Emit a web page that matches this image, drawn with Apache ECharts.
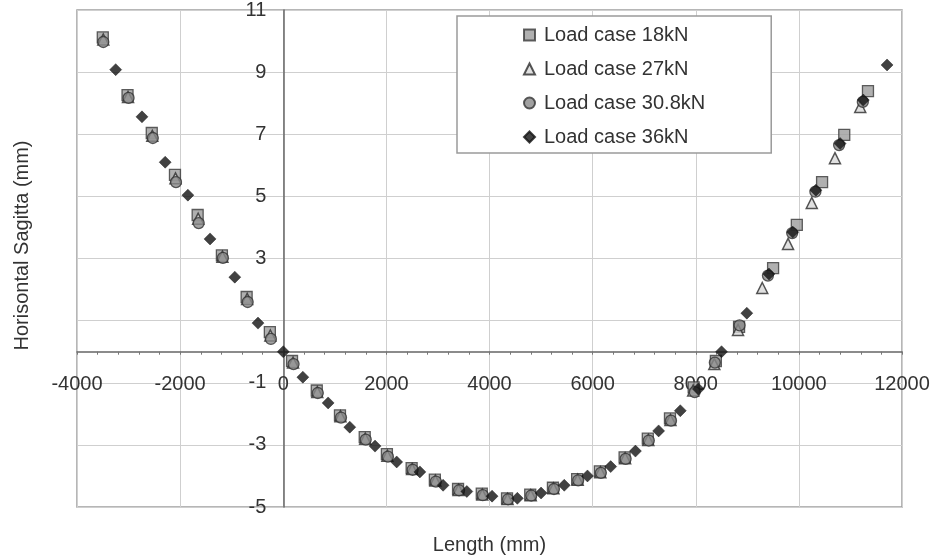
<!DOCTYPE html>
<html>
<head>
<meta charset="utf-8">
<script src="https://cdn.jsdelivr.net/npm/echarts@6/dist/echarts.min.js"></script>
<style>
html,body{margin:0;padding:0;background:#fff;}
#chart{width:933px;height:558px;}
</style>
</head>
<body>
<div id="chart"></div>
<script>
// Series names
const seriesNames = ['Load case 18kN', 'Load case 27kN', 'Load case 30.8kN', 'Load case 36kN'];

// Axis settings
const xMin = -4000, xMax = 12000, xStep = 2000;
const yMin = -5, yMax = 11, yStep = 2;
const yHiddenLabels = [1];

// Load case 18kN (squares)
const x18 = [-3500, -3020, -2550, -2100, -1660, -1190, -710, -260, 170, 650, 1100, 1580, 2010, 2490, 2940, 3390, 3850, 4340, 4790, 5230, 5700, 6140, 6620, 7070, 7500, 7960, 8390, 8840, 9500, 9960, 10450, 10880, 11340];
const y18 = [10.12, 8.26, 7.04, 5.69, 4.4, 3.1, 1.76, 0.63, -0.3, -1.25, -2.05, -2.75, -3.3, -3.75, -4.12, -4.42, -4.57, -4.72, -4.6, -4.38, -4.1, -3.85, -3.4, -2.8, -2.15, -1.15, -0.3, 0.8, 2.69, 4.08, 5.46, 6.98, 8.39];

// Load case 27kN (triangles)
const x27 = [-3490, -3010, -2540, -2090, -1650, -1180, -700, -250, 190, 660, 1110, 1590, 2020, 2500, 2950, 3400, 3860, 4350, 4800, 5240, 5710, 6150, 6630, 7080, 7510, 7950, 8360, 8820, 9290, 9790, 10250, 10700, 11190];
const y27 = [10.05, 8.2, 6.95, 5.58, 4.28, 3.06, 1.7, 0.52, -0.35, -1.3, -2.08, -2.8, -3.35, -3.78, -4.15, -4.45, -4.6, -4.74, -4.62, -4.4, -4.12, -3.88, -3.43, -2.84, -2.2, -1.25, -0.4, 0.7, 2.05, 3.47, 4.79, 6.23, 7.88];

// Load case 30.8kN (circles)
const x308 = [-3490, -3000, -2530, -2080, -1640, -1170, -690, -240, 200, 670, 1120, 1600, 2030, 2510, 2960, 3410, 3870, 4360, 4810, 5250, 5720, 6160, 6640, 7090, 7520, 7980, 8370, 8850, 9400, 9870, 10320, 10780, 11240];
const y308 = [9.97, 8.17, 6.88, 5.46, 4.14, 3.02, 1.6, 0.41, -0.4, -1.33, -2.12, -2.83, -3.38, -3.8, -4.18, -4.46, -4.62, -4.75, -4.63, -4.42, -4.14, -3.9, -3.45, -2.86, -2.22, -1.3, -0.35, 0.85, 2.45, 3.82, 5.15, 6.65, 8.04];

// Load case 36kN (diamonds)
const x36 = [-3250, -2740, -2290, -1850, -1420, -940, -490, 0, 380, 870, 1290, 1780, 2200, 2650, 3100, 3560, 4050, 4540, 5000, 5450, 5900, 6350, 6830, 7280, 7700, 8050, 8500, 8990, 9420, 9880, 10330, 10800, 11250, 11710];
const y36 = [9.08, 7.56, 6.1, 5.04, 3.63, 2.4, 0.92, 0, -0.82, -1.65, -2.43, -3.04, -3.55, -3.87, -4.3, -4.5, -4.65, -4.72, -4.55, -4.3, -4.0, -3.7, -3.2, -2.55, -1.9, -1.2, 0.0, 1.24, 2.5, 3.85, 5.2, 6.7, 8.1, 9.23];

function pairs(xs, ys) { return xs.map((x, i) => [x, ys[i]]); }

const FONT = "'Liberation Sans', Arial, sans-serif";
const W = 933, H = 558;
const G = { left: 77, right: 31, top: 10, bottom: 51 };
const plotW = W - G.left - G.right, plotH = H - G.top - G.bottom;
// place axes on the zero lines (computed through the axis scale ratios)
const xAxisOffset = -plotH * (0 - yMin) / (yMax - yMin);
const yAxisOffset = -plotW * (0 - xMin) / (xMax - xMin);

const chart = echarts.init(document.getElementById('chart'), null, {renderer: 'canvas'});

const option = {
  backgroundColor: '#ffffff',
  animation: false,
  textStyle: { fontFamily: FONT },
  grid: { left: G.left, right: G.right, top: G.top, bottom: G.bottom, show: true, borderColor: '#9e9e9e', borderWidth: 1.5, backgroundColor: 'transparent', containLabel: false, outerBoundsMode: 'none' },
  legend: {
    orient: 'vertical', left: 457, top: 16,
    padding: [7, 66, 4, 66],
    itemWidth: 11, itemHeight: 11, itemGap: 10,
    backgroundColor: '#ffffff', borderColor: '#9a9a9a', borderWidth: 1.5,
    textStyle: { fontSize: 20, color: '#333', lineHeight: 24, fontFamily: FONT, padding: [0, 0, 0, 4] },
    data: seriesNames
  },
  xAxis: {
    type: 'value', min: xMin, max: xMax, interval: xStep, position: 'bottom', offset: xAxisOffset,
    name: 'Length (mm)', nameLocation: 'middle', nameGap: 184,
    nameTextStyle: { fontSize: 20, color: '#333', fontFamily: FONT },
    axisLine: { onZero: false, lineStyle: { color: '#666', width: 1.5 } },
    axisTick: { show: true, length: 3, lineStyle: { color: '#777' } },
    minorTick: { show: true, splitNumber: 5, length: 3, lineStyle: { color: '#777' } },
    axisLabel: { fontSize: 20, color: '#333', margin: 23, fontFamily: FONT, formatter: v => String(v) },
    splitLine: { show: true, lineStyle: { color: '#cfcfcf', width: 1 } }
  },
  yAxis: {
    type: 'value', min: yMin, max: yMax, interval: yStep, position: 'left', offset: yAxisOffset,
    name: 'Horisontal Sagitta (mm)', nameLocation: 'middle', nameGap: 251,
    nameTextStyle: { fontSize: 20, color: '#333', fontFamily: FONT, padding: [0, 0, 0, 26] },
    axisLine: { onZero: false, lineStyle: { color: '#666', width: 1.5 } },
    axisTick: { show: false },
    axisLabel: { fontSize: 20, color: '#333', margin: 17, fontFamily: FONT,
      formatter: v => yHiddenLabels.indexOf(v) >= 0 ? '' : String(v) },
    splitLine: { show: true, lineStyle: { color: '#cfcfcf', width: 1 } }
  },
  series: [
    { name: seriesNames[0], type: 'scatter', symbol: 'rect', symbolSize: 11,
      itemStyle: { color: '#9c9c9c', borderColor: '#3a3a3a', borderWidth: 1.3 },
      data: pairs(x18, y18) },
    { name: seriesNames[1], type: 'scatter', symbol: 'triangle', symbolSize: 11,
      itemStyle: { color: '#d8d8d8', borderColor: '#2a2a2a', borderWidth: 1.5 },
      data: pairs(x27, y27) },
    { name: seriesNames[2], type: 'scatter', symbol: 'circle', symbolSize: 11,
      itemStyle: { color: '#8a8a8a', borderColor: '#333', borderWidth: 1.3 },
      data: pairs(x308, y308) },
    { name: seriesNames[3], type: 'scatter', symbol: 'diamond', symbolSize: 12,
      itemStyle: { color: '#111', borderColor: '#111', borderWidth: 0.5 },
      data: pairs(x36, y36) }
  ]
};
chart.setOption(option);
</script>
</body>
</html>
